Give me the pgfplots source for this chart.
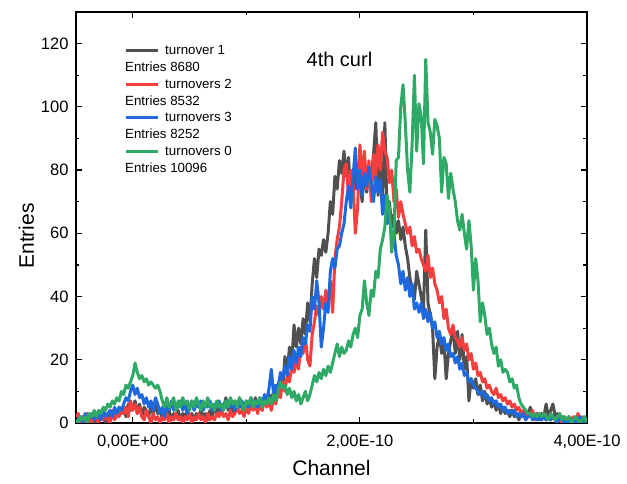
\documentclass[border=0pt]{standalone}
\usepackage{pgfplots}
\pgfplotsset{compat=1.18}
\usepackage{pgfplotstable}
\usepackage{fontspec}
\setmainfont{Liberation Sans}

\definecolor{cgray}{RGB}{80,80,80}
\definecolor{cred}{RGB}{245,62,62}
\definecolor{cblue}{RGB}{30,105,222}
\definecolor{cgreen}{RGB}{46,170,102}

% channel in units of 1E-10; g = turnover 1, r = turnovers 2, b = turnovers 3, gr = turnovers 0
\pgfplotstableread{
x g r b gr
-0.50 1 2 0 1
-0.48 0 3 1 0
-0.46 2 0 2 2
-0.44 0 2 0 1
-0.42 1 0 3 2
-0.40 3 3 1 0
-0.38 0 1 2 3
-0.36 2 0 3 2
-0.34 1 3 1 4
-0.32 0 1 2 2
-0.30 3 0 3 4
-0.28 1 2 1 3
-0.26 2 1 4 5
-0.24 0 3 2 4
-0.22 3 1 3 6
-0.20 1 0 4 5
-0.18 2 4 2 7
-0.16 4 1 5 6
-0.14 2 3 3 8
-0.12 5 2 5 7
-0.10 3 4 4 10
-0.08 5 3 6 9
-0.06 2 5 8 12
-0.04 6 2 7 11
-0.02 4 7 10 13
0.00 5 4 12 15
0.02 7 6 9 19
0.04 3 3 11 16
0.06 6 5 8 14
0.08 2 2 9 15
0.10 5 1 6 13
0.12 4 4 8 14
0.14 2 2 5 12
0.16 5 0 7 13
0.18 3 3 4 12
0.20 6 1 8 11
0.22 3 2 6 12
0.24 4 0 3 10
0.26 1 2 5 7
0.28 3 1 2 5
0.30 2 3 6 8
0.32 4 0 4 5
0.34 1 2 7 6
0.36 3 1 4 8
0.38 2 3 6 4
0.40 4 1 5 7
0.42 1 2 7 5
0.44 3 0 4 8
0.46 2 2 6 6
0.48 4 1 3 7
0.50 2 3 5 4
0.52 3 0 7 7
0.54 1 2 4 5
0.56 3 1 6 8
0.58 2 3 5 6
0.60 4 1 7 4
0.62 2 2 4 7
0.64 3 0 6 5
0.66 1 3 5 8
0.68 4 1 7 5
0.70 2 2 4 6
0.72 5 1 6 4
0.74 3 3 5 7
0.76 6 2 7 5
0.78 3 4 4 6
0.80 5 2 6 4
0.82 8 3 5 7
0.84 4 1 7 5
0.86 6 4 5 8
0.88 3 2 6 6
0.90 7 3 4 7
0.92 4 5 6 5
0.94 8 3 5 8
0.96 5 4 7 6
0.98 3 2 5 4
1.00 6 5 7 7
1.02 4 3 5 6
1.04 7 6 8 8
1.06 5 4 6 5
1.08 8 6 7 7
1.10 5 3 5 6
1.12 7 7 8 8
1.14 4 4 6 5
1.16 8 8 9 7
1.18 6 5 7 6
1.20 9 7 11 8
1.22 7 4 17 6
1.24 10 8 9 9
1.26 8 6 12 7
1.28 12 10 10 10
1.30 15 8 16 13
1.32 11 13 14 11
1.34 21 10 18 12
1.36 16 15 15 9
1.38 24 13 21 11
1.40 19 18 17 8
1.42 31 16 23 10
1.44 24 20 19 7
1.46 30 17 24 9
1.48 25 24 21 6
1.50 33 22 27 8
1.52 28 27 25 10
1.54 38 20 31 7
1.56 32 18 29 9
1.58 44 28 40 12
1.60 52 32 36 15
1.62 46 37 45 13
1.64 55 34 38 16
1.66 53 40 24 14
1.68 58 36 30 17
1.70 54 42 38 15
1.72 60 38 35 18
1.74 70 45 48 16
1.76 66 35 52 19
1.78 78 52 49 22
1.80 74 58 55 25
1.82 83 62 56 21
1.84 79 70 60 24
1.86 86 80 63 22
1.88 78 82 70 23
1.90 84 72 75 26
1.92 71 80 68 24
1.94 80 76 78 28
1.96 74 60 87 30
1.98 82 68 74 27
2.00 76 88 80 34
2.02 70 78 72 36
2.04 81 86 79 45
2.06 73 74 75 38
2.08 80 83 81 34
2.10 77 70 76 42
2.12 85 85 70 40
2.14 95 78 78 48
2.16 72 88 73 46
2.18 83 80 77 55
2.20 70 92 66 58
2.22 95 86 72 62
2.24 66 84 63 72
2.26 70 76 68 68
2.28 62 80 58 54
2.30 66 70 60 60
2.32 60 74 53 83
2.34 64 65 50 84
2.36 58 70 44 100
2.38 62 66 48 107
2.40 56 63 42 95
2.42 52 60 46 80
2.44 46 62 40 73
2.46 42 56 44 88
2.48 39 59 36 110
2.50 48 54 38 86
2.52 44 55 35 101
2.54 40 52 38 97
2.56 36 50 33 82
2.58 61 48 36 115
2.60 38 53 32 95
2.62 34 46 35 92
2.64 30 49 30 85
2.66 14 44 32 96
2.68 24 42 27 94
2.70 28 38 29 90
2.72 22 40 25 73
2.74 26 33 27 84
2.76 14 36 23 82
2.78 22 30 25 71
2.80 26 28 21 79
2.82 30 31 22 74
2.84 22 27 19 70
2.86 29 26 21 64
2.88 20 24 17 61
2.90 28 27 19 66
2.92 17 23 15 60
2.94 21 25 16 55
2.96 7 20 13 64
2.98 14 22 14 56
3.00 11 17 12 42
3.02 14 19 11 52
3.04 9 15 10 45
3.06 12 16 9 32
3.08 7 13 10 38
3.10 10 14 8 34
3.12 6 11 9 28
3.14 8 12 7 30
3.16 5 10 8 25
3.18 7 9 6 22
3.20 4 11 7 24
3.22 6 8 5 18
3.24 3 9 6 20
3.26 5 7 4 16
3.28 3 8 5 17
3.30 4 6 3 16
3.32 2 7 4 13
3.34 4 5 3 14
3.36 2 6 4 11
3.38 3 4 2 12
3.40 1 5 3 8
3.42 3 3 2 6
3.44 2 4 3 5
3.46 4 2 1 4
3.48 2 3 2 3
3.50 5 2 3 3
3.52 3 4 1 2
3.54 2 1 2 3
3.56 3 3 1 2
3.58 1 2 2 3
3.60 3 1 1 2
3.62 2 3 2 3
3.64 6 1 1 2
3.66 2 2 2 1
3.68 4 1 1 3
3.70 6 2 2 2
3.72 2 1 1 1
3.74 3 2 0 2
3.76 1 1 2 3
3.78 2 0 1 1
3.80 1 2 0 2
3.82 0 1 1 1
3.84 2 0 0 2
3.86 1 1 1 0
3.88 0 2 0 1
3.90 1 0 1 2
3.92 2 3 0 1
3.94 0 1 2 0
3.96 1 2 0 1
3.98 0 0 1 2
4.00 1 1 0 0
}\curl

\begin{document}
\begin{tikzpicture}
\begin{axis}[
  scale only axis, width=511pt, height=411pt,
  xmin=-0.5, xmax=4, ymin=0, ymax=130,
  xtick={0,2,4},
  xticklabels={{0,00E+00},{2,00E-10},{4,00E-10}},
  minor x tick num=1,
  ytick={0,20,...,120}, minor y tick num=1,
  tick align=inside,
  major tick length=6pt, minor tick length=3.5pt,
  every tick/.style={black, line width=1.2pt},
  axis line style={line width=1.3pt},
  tick label style={font=\fontsize{16.5}{18}\selectfont},
  xticklabel style={yshift=-8pt},
  yticklabel style={xshift=-4pt},
  /pgf/number format/assume math mode=true,
  xlabel={Channel}, ylabel={Entries},
  label style={font=\fontsize{21}{24}\selectfont},
  xlabel style={at={(axis description cs:0.5,-0.128)}, anchor=base},
  ylabel style={at={(axis description cs:-0.097,0.455)}, anchor=center},
  no markers,
  every axis plot/.append style={line width=3pt, line join=round},
  legend style={draw=none, fill=none, at={(0.094,0.922)}, anchor=north west,
    font=\fontsize{13.3}{15}\selectfont, row sep=3.9pt, inner sep=0pt,
    nodes={inner sep=1pt}},
  legend cell align=left,
  legend image code/.code={\draw[#1] (0pt,0pt) -- (32pt,0pt); \path (37pt,0pt);},
]
\addplot[cgray] table[x=x,y=g]{\curl};
\addlegendentry{turnover 1}
\addlegendimage{empty legend}
\addlegendentry{\hspace*{-40pt}Entries 8680}
\addplot[cred] table[x=x,y=r]{\curl};
\addlegendentry{turnovers 2}
\addlegendimage{empty legend}
\addlegendentry{\hspace*{-40pt}Entries 8532}
\addplot[cblue] table[x=x,y=b]{\curl};
\addlegendentry{turnovers 3}
\addlegendimage{empty legend}
\addlegendentry{\hspace*{-40pt}Entries 8252}
\addplot[cgreen] table[x=x,y=gr]{\curl};
\addlegendentry{turnovers 0}
\addlegendimage{empty legend}
\addlegendentry{\hspace*{-40pt}Entries 10096}
\node[font=\fontsize{20}{24}\selectfont] at (axis cs:1.82,115) {4th curl};
\end{axis}
\pgfresetboundingbox
\path[use as bounding box] (current axis.south west) ++(-76pt,-61pt) rectangle ++(627pt,484pt);
\end{tikzpicture}
\end{document}
